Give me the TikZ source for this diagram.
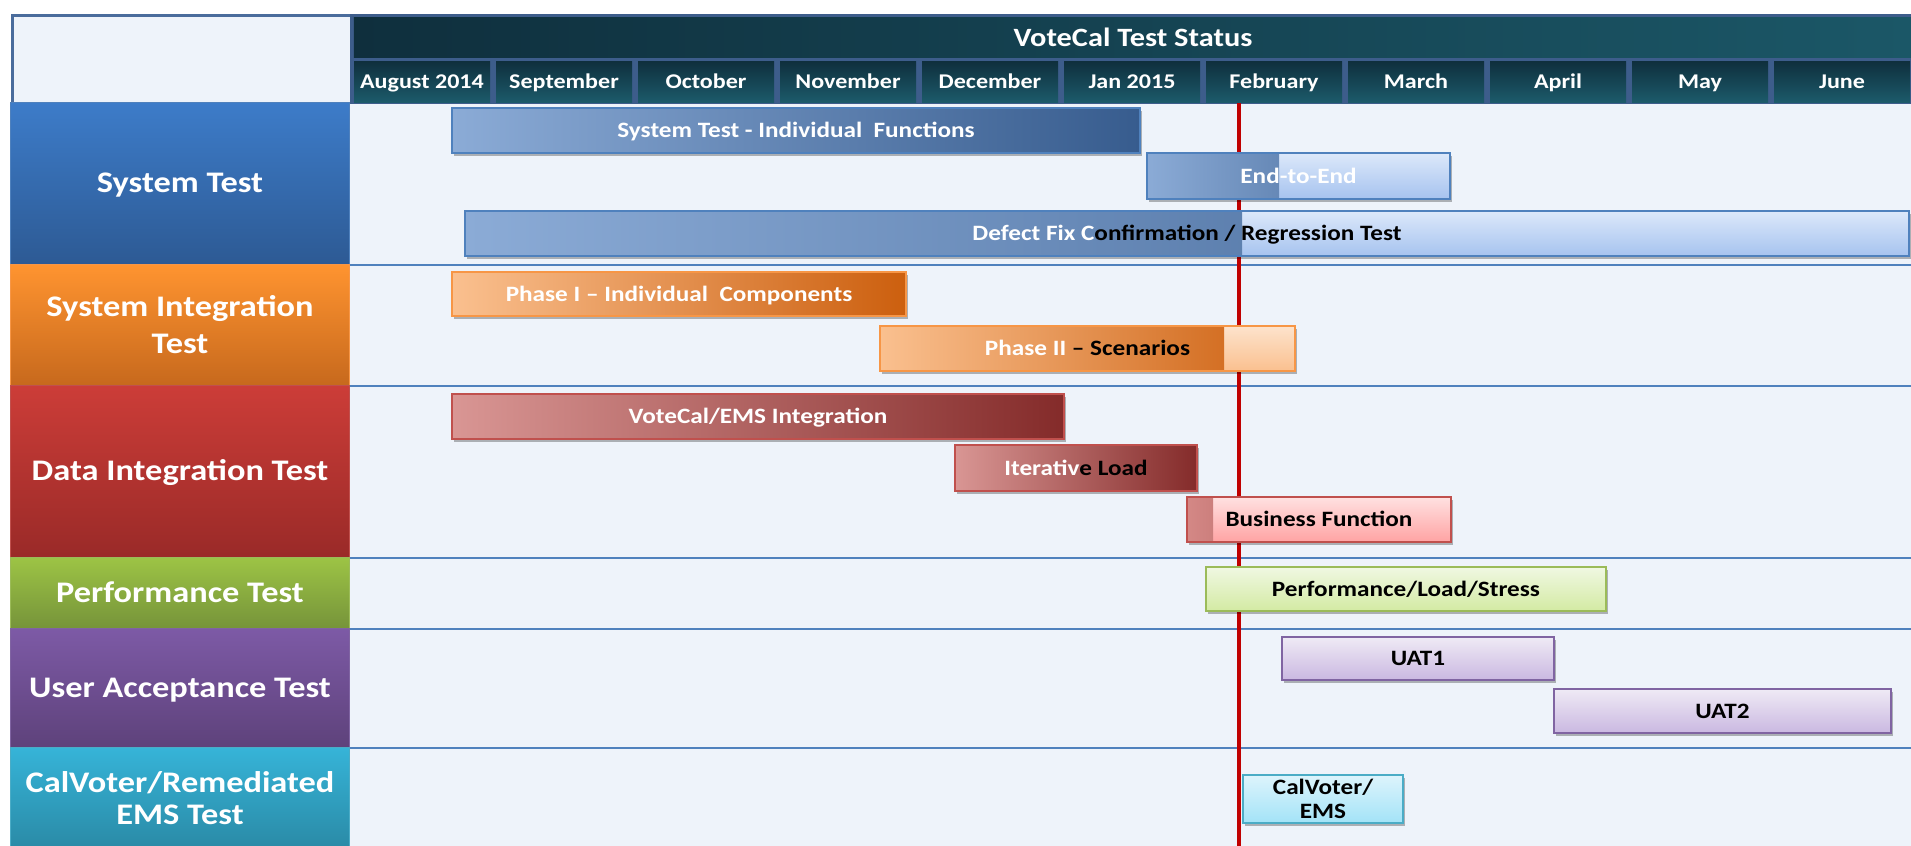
\documentclass[tikz,border=0pt]{standalone}
\usepackage{fontspec}
\setmainfont{Carlito}[FakeStretch=1.15]
\definecolor{frameblue}{HTML}{4A6C9C}
\definecolor{bodybg}{HTML}{EEF3FA}
\definecolor{hdrbg}{HTML}{3D5D8B}
\definecolor{hdrA}{HTML}{0F2F3D}
\definecolor{hdrB}{HTML}{1C5A6A}
\definecolor{hdrC}{HTML}{1B5767}
\definecolor{gridblue}{HTML}{4F81BD}
\definecolor{nowred}{HTML}{C00000}
% left column
\definecolor{stA}{HTML}{3D7CC9}\definecolor{stB}{HTML}{2D5A94}
\definecolor{siA}{HTML}{FF9430}\definecolor{siB}{HTML}{C7691D}\definecolor{siL}{HTML}{F79646}
\definecolor{diA}{HTML}{CC3D38}\definecolor{diB}{HTML}{9A2A28}\definecolor{diL}{HTML}{C0504D}
\definecolor{ptA}{HTML}{9DC445}\definecolor{ptB}{HTML}{76943A}\definecolor{ptL}{HTML}{9BBB59}
\definecolor{uaA}{HTML}{7D5AA6}\definecolor{uaB}{HTML}{5E427B}\definecolor{uaL}{HTML}{8064A2}
\definecolor{cvA}{HTML}{36B4D8}\definecolor{cvB}{HTML}{2A8AA6}\definecolor{cvL}{HTML}{4BACC6}
% bars
\definecolor{bdA}{HTML}{8BABD6}\definecolor{bdB}{HTML}{375C8E}
\definecolor{blA}{HTML}{DCE8FA}\definecolor{blB}{HTML}{A6C3EF}
\definecolor{odA}{HTML}{FAC08F}\definecolor{odB}{HTML}{CC5F0E}
\definecolor{olA}{HTML}{FDE3CC}\definecolor{olB}{HTML}{FAC08F}
\definecolor{rdA}{HTML}{D99694}\definecolor{rdB}{HTML}{842B2A}
\definecolor{rlA}{HTML}{FFE1E1}\definecolor{rlB}{HTML}{FFA3A3}
\definecolor{gA}{HTML}{F0F8E2}\definecolor{gB}{HTML}{D3EAA3}
\definecolor{pA}{HTML}{EFEAF5}\definecolor{pB}{HTML}{CAB8E1}
\definecolor{cA}{HTML}{DDF4FC}\definecolor{cB}{HTML}{A3E3F7}
\begin{document}
\begin{tikzpicture}[x=1bp,y=-1bp,
  cell/.style={rectangle, minimum width=338bp, inner sep=0pt, align=center, text=white,
    font=\bfseries\fontsize{30}{37}\selectfont, line width=1bp},
  onecell/.style={cell, text height=19.5bp, text depth=0pt},
  month/.style={rectangle, minimum width=136bp, minimum height=41bp, inner sep=0pt, text=white,
    font=\bfseries\fontsize{21}{25}\selectfont, top color=hdrA, bottom color=hdrB,
    text height=13.7bp, text depth=0pt},
  titlebar/.style={rectangle, minimum width=1558bp, minimum height=39bp, inner sep=0pt, text=white,
    font=\bfseries\fontsize{26.5}{30}\selectfont, left color=hdrA, right color=hdrC,
    text height=17.2bp, text depth=0pt},
  barshadow/.style={preaction={fill=black, fill opacity=0.28, draw=none,
    transform canvas={shift={(2bp,-3bp)}}}},
  bar/.style={rectangle, inner sep=0pt, line width=1.6bp, align=center,
    font=\bfseries\fontsize{22}{26}\selectfont, barshadow},
  onebar/.style={bar, text height=14.3bp, text depth=0pt},
  bluebar/.style={onebar, draw=gridblue, left color=bdA, right color=bdB, text=white},
  bluelight/.style={onebar, draw=gridblue, top color=blA, bottom color=blB},
  orangebar/.style={onebar, draw=siL, left color=odA, right color=odB, text=white},
  orangelight/.style={onebar, draw=siL, top color=olA, bottom color=olB},
  redbar/.style={onebar, draw=diL, left color=rdA, right color=rdB, text=white},
  redlight/.style={onebar, draw=diL, top color=rlA, bottom color=rlB},
  greenbar/.style={onebar, draw=ptL, top color=gA, bottom color=gB},
  purplebar/.style={onebar, draw=uaL, top color=pA, bottom color=pB},
  cyanbar/.style={bar, draw=cvL, top color=cA, bottom color=cB},
  grid/.style={draw=gridblue, line width=2bp},
  nowline/.style={draw=nowred, line width=3.5bp}
]
\useasboundingbox (0,0) rectangle (1911,846);
\clip (0,0) rectangle (1911,846);
\fill[white] (0,0) rectangle (1911,846);
% frame and body
\draw[frameblue, line width=3bp, fill=bodybg] (12,15) rectangle (1930,870);
% left column cells
\node[onecell, minimum height=162bp, top color=stA, bottom color=stB, draw=gridblue] (st) at (180,183) {System Test};
\node[cell, minimum height=121bp, top color=siA, bottom color=siB, draw=siL] (sit) at (180,324.5) {System Integration\\Test};
\node[onecell, minimum height=172bp, top color=diA, bottom color=diB, draw=diL] (dit) at (180,471) {Data Integration Test};
\node[onecell, minimum height=71bp, top color=ptA, bottom color=ptB, draw=ptL] (pt) at (180,592.5) {Performance Test};
\node[onecell, minimum height=119bp, top color=uaA, bottom color=uaB, draw=uaL] (uat) at (180,687.5) {User Acceptance Test};
\node[cell, minimum height=102bp, top color=cvA, bottom color=cvB, draw=cvL] (cv) at (180,798) {CalVoter/Remediated\\[-5bp]EMS Test};
% grid lines
\draw[grid] (st.south east) -- +(1600,0);
\draw[grid] (sit.south east) -- +(1600,0);
\draw[grid] (dit.south east) -- +(1600,0);
\draw[grid] (pt.south east) -- +(1600,0);
\draw[grid] (uat.south east) -- +(1600,0);
% header
\fill[hdrbg] (350,14) rectangle (1930,104);
\node[titlebar] (title) at (1133,37.5) {VoteCal Test Status};
\foreach \m [count=\i from 0] in {August 2014,September,October,November,December,Jan 2015,February,March,April,May,June}
  \node[month] (m\i) at ({422+142*\i},81.5) {\m};
% status line
\coordinate (nowtop) at (1239,103);
\coordinate (nowbot) at (1239,850);
\draw[nowline] (nowtop) -- (nowbot);
% System Test bars
\node[bluebar, minimum width=688bp, minimum height=45bp] (b1) at (796,130.5) {System Test - Individual\ \ Functions};
\node[bluelight, minimum width=303bp, minimum height=46bp, text=white,
  path picture={\shade[left color=bdA, right color=bdB] (path picture bounding box.north west) rectangle ([xshift=132bp]path picture bounding box.south west);}]
  (b2) at (1298.5,176) {End-to-End};
\node[bluelight, minimum width=1444bp, minimum height=45bp,
  path picture={\shade[left color=bdA, right color=bdB] (path picture bounding box.north west) rectangle ([xshift=777bp]path picture bounding box.south west);}]
  (b3) at (1187,233.5) {{\color{white}Defect Fix C}onfirmation\ /\ Regression Test};
% SIT bars
\node[orangebar, minimum width=454bp, minimum height=44bp] (b4) at (679,294) {Phase I -- Individual\ \ Components};
\node[orangelight, minimum width=415bp, minimum height=45bp,
  path picture={\shade[left color=odA, right color=odB] (path picture bounding box.north west) rectangle ([xshift=344bp]path picture bounding box.south west);}]
  (b5) at (1087.5,348.5) {{\color{white}Phase II }-- Scenarios};
% DIT bars
\node[redbar, minimum width=612bp, minimum height=45bp] (b6) at (758,416.5) {VoteCal/EMS Integration};
\node[redbar, minimum width=242bp, minimum height=46bp, text=black] (b7) at (1076,468) {{\color{white}Iterativ}e Load};
\node[redlight, minimum width=264bp, minimum height=45bp,
  path picture={\shade[left color=rdA!80!diL, right color=rdB] (path picture bounding box.north west) rectangle ([xshift=26bp]path picture bounding box.south west);}]
  (b8) at (1319,519.5) {Business Function};
% Performance
\node[greenbar, minimum width=400bp, minimum height=44bp] (b9) at (1406,589) {Performance/Load/Stress};
% UAT
\node[purplebar, minimum width=272bp, minimum height=43bp] (b10) at (1418,658.5) {UAT1};
\node[purplebar, minimum width=337bp, minimum height=44bp] (b11) at (1722.5,711) {UAT2};
% CalVoter
\node[cyanbar, minimum width=160bp, minimum height=48bp] (b12) at (1323,799) {CalVoter/\\[-2bp]EMS};
\end{tikzpicture}
\end{document}
